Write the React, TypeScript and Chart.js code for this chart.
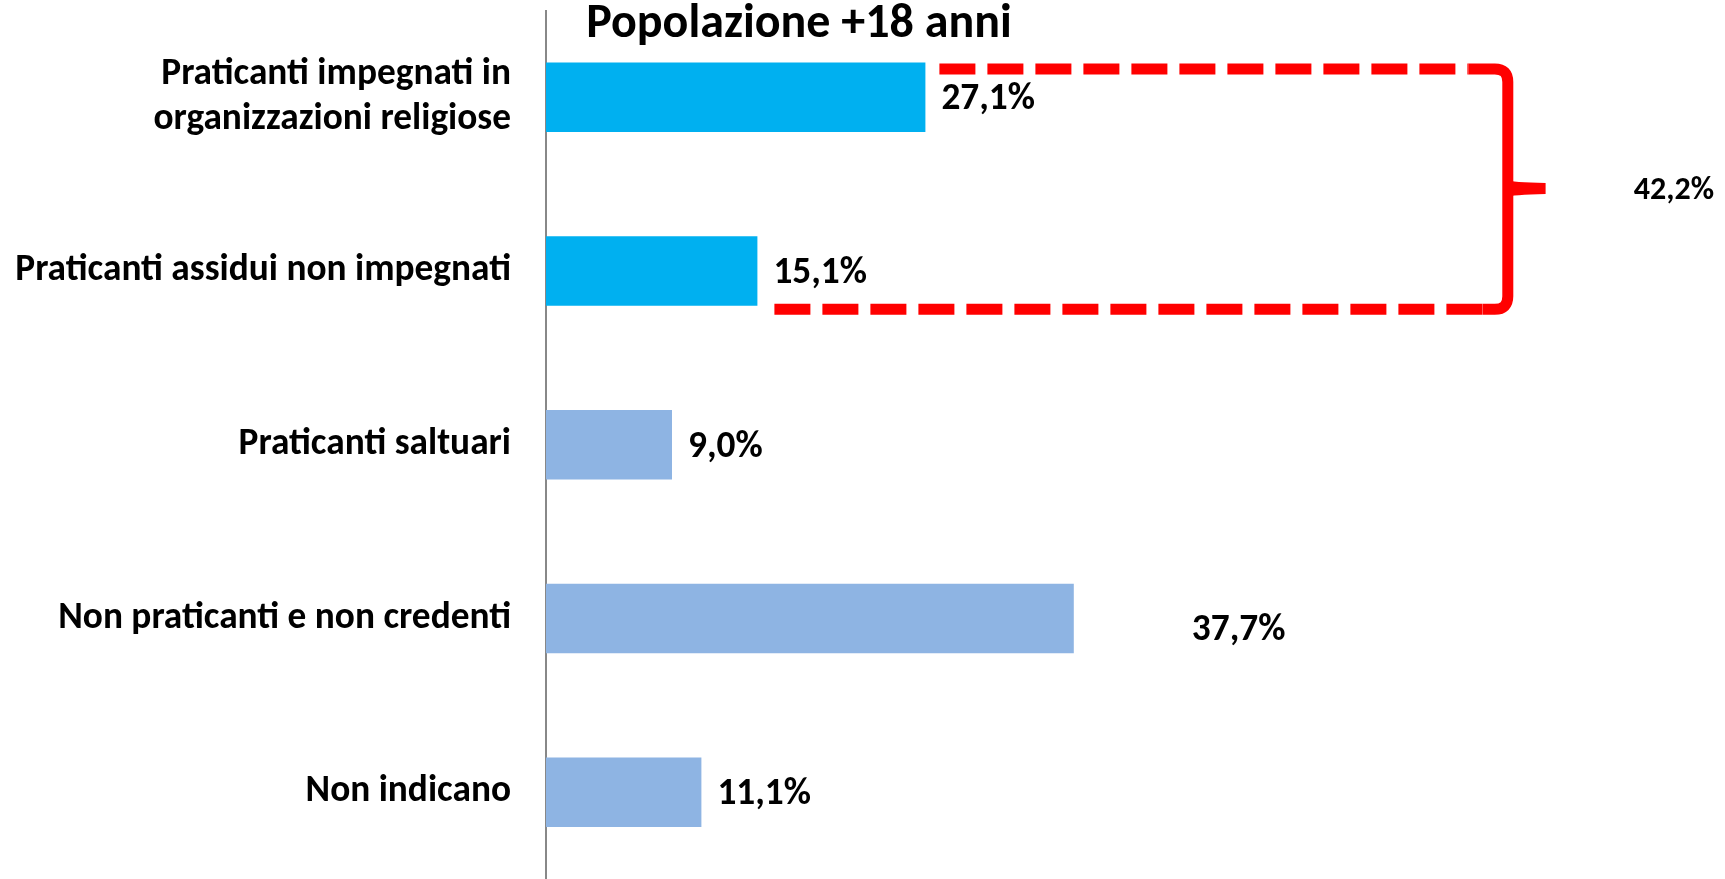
import React, { useEffect, useRef } from "react";
import { Chart, registerables } from "chart.js";

Chart.register(...registerables);

// ---- Data ----
const categories: (string | string[])[] = [
  ["Praticanti impegnati in", "organizzazioni religiose"],
  "Praticanti assidui non impegnati",
  "Praticanti saltuari",
  "Non praticanti e non credenti",
  "Non indicano",
];
const values = [27.1, 15.1, 9.0, 37.7, 11.1];
const barColors = ["#00B0F0", "#00B0F0", "#8EB4E3", "#8EB4E3", "#8EB4E3"];
const groupedIndices = [0, 1];
const chartTitle = "Popolazione +18 anni";
const xMax = 80;

// label nudges (pixels) — the 37,7% label sits away from its bar in the original
const labelDx = [0, 0, 0, 102, 0];
const labelDy = [0, 0, 0, 10, 0];

const FONT = "Carlito, Calibri, 'Liberation Sans', sans-serif";

const fmt = (v: number) => v.toFixed(1).replace(".", ",") + "%";

const overlayPlugin = {
  id: "overlay",
  afterDraw(chart: any) {
    const ctx: CanvasRenderingContext2D = chart.ctx;
    const meta = chart.getDatasetMeta(0);
    const xs = chart.scales.x;
    const area = chart.chartArea;
    ctx.save();

    // value labels
    ctx.fillStyle = "#000000";
    ctx.font = `bold 37.33px ${FONT}`;
    ctx.textAlign = "left";
    ctx.textBaseline = "alphabetic";
    meta.data.forEach((el: any, i: number) => {
      ctx.fillText(fmt(values[i]), el.x + 16 + labelDx[i], el.y + 12 + labelDy[i]);
    });

    // title
    ctx.font = `bold 48px ${FONT}`;
    ctx.textAlign = "center";
    ctx.fillText(chartTitle, area.left + 253, 37);

    // bracket grouping first two bars
    const e0 = meta.data[groupedIndices[0]];
    const e1 = meta.data[groupedIndices[1]];
    const yTop = e0.y - e0.height / 2 + 6.3;
    const yBot = e1.y + e1.height / 2 + 3.5;
    const yMid = (yTop + yBot) / 2 - 0.5;
    const armTop = xs.getPixelForValue(65.9);
    const armBot = xs.getPixelForValue(66.9);
    const xV = xs.getPixelForValue(68.7);
    const xCusp = xs.getPixelForValue(71.4);
    const r = 13;

    ctx.strokeStyle = "#FF0000";
    ctx.fillStyle = "#FF0000";
    ctx.lineWidth = 11;
    ctx.lineCap = "butt";

    ctx.setLineDash([36, 12]);
    ctx.beginPath();
    ctx.moveTo(e0.x + 14, yTop);
    ctx.lineTo(armTop, yTop);
    ctx.stroke();
    ctx.beginPath();
    ctx.moveTo(e1.x + 17, yBot);
    ctx.lineTo(armBot, yBot);
    ctx.stroke();

    ctx.setLineDash([]);
    ctx.lineJoin = "round";
    ctx.beginPath();
    ctx.moveTo(armTop, yTop);
    ctx.lineTo(xV - r, yTop);
    ctx.quadraticCurveTo(xV, yTop, xV, yTop + r);
    ctx.lineTo(xV, yBot - r);
    ctx.quadraticCurveTo(xV, yBot, xV - r, yBot);
    ctx.lineTo(armBot, yBot);
    ctx.stroke();

    // middle cusp
    ctx.beginPath();
    ctx.moveTo(xV - 3, yMid - 9);
    ctx.quadraticCurveTo(xV + 5, yMid - 6, xCusp, yMid - 5.5);
    ctx.lineTo(xCusp, yMid + 5.5);
    ctx.quadraticCurveTo(xV + 5, yMid + 6, xV - 3, yMid + 9);
    ctx.closePath();
    ctx.fill();

    const total = groupedIndices.reduce((s, i) => s + values[i], 0);
    ctx.fillStyle = "#000000";
    ctx.font = `bold 32px ${FONT}`;
    ctx.textAlign = "left";
    ctx.fillText(fmt(total), xs.getPixelForValue(77.7), yMid + 10);

    ctx.restore();
  },
};

export default function App() {
  const canvasRef = useRef<HTMLCanvasElement | null>(null);

  useEffect(() => {
    if (!canvasRef.current) return;
    const chart = new Chart(canvasRef.current, {
      type: "bar",
      data: {
        labels: categories as any,
        datasets: [
          {
            data: values,
            backgroundColor: barColors,
            borderWidth: 0,
            barPercentage: 0.4,
            categoryPercentage: 1,
          },
        ],
      },
      options: {
        indexAxis: "y",
        responsive: false,
        animation: false,
        layout: { padding: { top: 10.5, bottom: 0, left: 0, right: 59 } },
        plugins: {
          legend: { display: false },
          title: { display: false },
          tooltip: { enabled: false },
        },
        scales: {
          x: {
            display: false,
            min: 0,
            max: xMax,
          },
          y: {
            grid: { display: false, drawTicks: false },
            border: { display: true, color: "#888888", width: 2 },
            ticks: {
              color: "#000000",
              padding: 35,
              font: { family: FONT, size: 37.33, weight: "bold", lineHeight: 1.22 },
            },
            afterFit: (scale: any) => {
              scale.width = 546;
              scale.paddingTop = 0;
              scale.paddingBottom = 0;
            },
          },
        },
      },
      plugins: [overlayPlugin],
    });
    return () => chart.destroy();
  }, []);

  return (
    <div style={{ position: "absolute", left: 0, top: 0, width: 1725, height: 879, background: "#ffffff" }}>
      <canvas ref={canvasRef} width={1725} height={879} style={{ display: "block", width: 1725, height: 879 }} />
    </div>
  );
}
